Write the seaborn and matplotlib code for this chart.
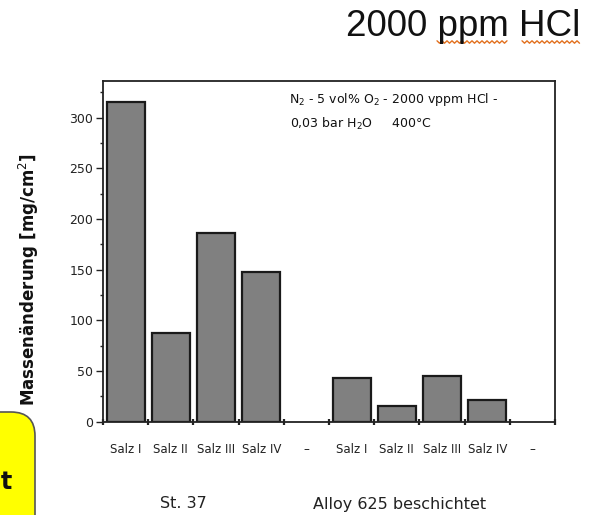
import numpy as np
import pandas as pd
import matplotlib
matplotlib.use("Agg")
import matplotlib.pyplot as plt
import matplotlib.patches as mpatches
import matplotlib.transforms as mtransforms
from matplotlib.lines import Line2D
import seaborn as sns

# --- data -------------------------------------------------------------
groups = ["St. 37"] * 5 + ["Alloy 625 beschichtet"] * 5
salts = ["Salz I", "Salz II", "Salz III", "Salz IV", "–"] * 2
mass_change = [315, 87, 186, 148, np.nan, 43, 15, 45, 21, np.nan]  # mg/cm²
y_ticks = [0, 50, 100, 150, 200, 250, 300]
group_names = ["St. 37", "Alloy 625 beschichtet"]

df = pd.DataFrame({"group": groups, "salt": salts, "value": mass_change})
df["slot"] = df["group"] + " | " + df["salt"]
order = list(df["slot"])

# --- figure -------------------------------------------------------------
sns.set_theme(style="white")
plt.rcParams["font.family"] = ["DejaVu Sans"]

W, H = 591, 515
fig = plt.figure(figsize=(W / 100, H / 100), dpi=100)
ax = fig.add_axes([103 / W, 1 - 421.7 / H, (555 - 103) / W, (421.7 - 81) / H])

sns.barplot(data=df, x="slot", y="value", order=order, color="#808080",
            saturation=1, edgecolor="#1a1a1a", linewidth=1.6, width=0.84,
            errorbar=None, ax=ax)

ax.set_xlim(-0.5, len(order) - 0.5)
ax.set_ylim(0, 336)
ax.set_xlabel("")
ax.set_ylabel("Massenänderung [mg/cm$^2$]", fontsize=12, fontweight="bold",
              color="#111111")
ax.yaxis.set_label_coords(-0.137, 0.416)

# frame
for s in ax.spines.values():
    s.set_visible(True)
    s.set_color("#222222")
    s.set_linewidth(1.3)

# y ticks
ax.set_yticks(y_ticks)
ax.set_yticks(np.arange(25, 336, 50), minor=True)
ax.tick_params(axis="y", which="major", direction="out", length=5, width=1,
               pad=2, labelsize=9, left=True, colors="#222222")
ax.tick_params(axis="y", which="minor", direction="out", length=2.5,
               width=1, left=True, colors="#222222")

# x ticks: marks on the slot boundaries, labels in the slot centres
ax.set_xticks(np.arange(-0.5, len(order)), labels=[""] * (len(order) + 1))
ax.set_xticks(np.arange(len(order)), labels=salts, minor=True)
ax.tick_params(axis="x", which="major", direction="inout", length=5,
               width=1.6, bottom=True, colors="#222222")
ax.tick_params(axis="x", which="minor", length=0, pad=15, labelsize=8.5,
               bottom=True)
for lbl in ax.get_xticklabels(minor=True):
    lbl.set_color("#222222")

# condition annotation
fig.text(289 / W, 1 - 100 / H, "N$_2$ - 5 vol% O$_2$ - 2000 vppm HCl -",
         fontsize=9, va="center", ha="left", color="#111111")
fig.text(290 / W, 1 - 124 / H, "0,03 bar H$_2$O     400°C", fontsize=9,
         va="center", ha="left", color="#111111")

# group captions
fig.text(183 / W, 1 - 504 / H, group_names[0], fontsize=11.5, ha="center",
         va="center", color="#222222")
fig.text(400 / W, 1 - 504 / H, group_names[1], fontsize=11.5, ha="center",
         va="center", color="#222222")

# slide title
fig.text(580 / W, 1 - 26 / H, "2000 ppm HCl", fontsize=26.5, ha="right",
         va="center", color="#111111", family="Liberation Sans")


def squiggle(x0, x1, y):
    xs = np.arange(x0, x1 + 0.1, 2.5)
    ys = y + np.where(np.arange(len(xs)) % 2 == 0, -1.2, 1.2)
    fig.add_artist(Line2D(xs / W, 1 - ys / H, color="#e2701e", lw=1.0,
                          transform=fig.transFigure))


squiggle(437, 507, 42)
squiggle(522, 580, 42)

# yellow slide box in the lower left corner
box = mpatches.FancyBboxPatch((-40, -40), 75, 143,
                              boxstyle="round,pad=0,rounding_size=24",
                              facecolor="#ffff00", edgecolor="#555555",
                              linewidth=1.2,
                              transform=mtransforms.IdentityTransform())
fig.add_artist(box)
fig.text(1 / W, 1 - 482 / H, "t", fontsize=17, fontweight="bold",
         ha="left", va="center", color="#111111")

fig.savefig("out.png", dpi=100)
